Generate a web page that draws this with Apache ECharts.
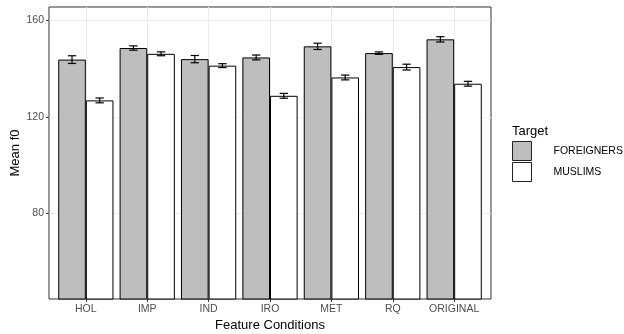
<!DOCTYPE html>
<html>
<head>
<meta charset="utf-8">
<title>Mean f0 by feature condition</title>
<script src="https://cdn.jsdelivr.net/npm/echarts@6/dist/echarts.min.js"></script>
<style>
  html, body { margin: 0; padding: 0; background: #fff; }
  #chart { width: 624px; height: 334px; }
</style>
</head>
<body>
<div id="chart"></div>
<script>
// data
const categories = ['HOL', 'IMP', 'IND', 'IRO', 'MET', 'RQ', 'ORIGINAL'];
const foreigners = [143.7, 148.5, 143.9, 144.6, 149.2, 146.4, 152.1];
const muslims = [126.8, 146.1, 141.2, 128.7, 136.3, 140.6, 133.7];
const foreignersSE = [1.6, 0.9, 1.5, 1.0, 1.3, 0.5, 1.1];
const muslimsSE = [1.0, 0.8, 0.8, 1.0, 1.0, 1.2, 1.0];
const yTicks = [80, 120, 160];

const FONT = "'Liberation Sans', Arial, sans-serif";
const yMin = 44.5, yMax = 165.5;

// panel (ggplot keeps 0.6 of a category as padding, echarts 0.5 -> inner grid is inset)
const panel = { left: 49, top: 7, right: 133, bottom: 35 };
const unit = (624 - panel.left - panel.right) / 7.2;
const inset = unit * 0.1;

// error bars drawn through the axis scales
const errorSeries = (vals, se, side) => ({
  type: 'custom',
  xAxisIndex: 1,
  yAxisIndex: 2,
  z: 5,
  silent: true,
  data: vals.map((v, i) => [i, v, se[i]]),
  encode: { x: 0, y: 1 },
  renderItem: function (params, api) {
    const band = api.size([1, 0])[0];
    const x = api.coord([api.value(0), api.value(1)])[0] + side * band * 0.225;
    const top = api.coord([api.value(0), api.value(1) + api.value(2)])[1];
    const bot = api.coord([api.value(0), api.value(1) - api.value(2)])[1];
    const hw = band * 0.068;
    const style = { stroke: '#000', lineWidth: 1.2 };
    return {
      type: 'group',
      children: [
        { type: 'line', shape: { x1: x, y1: top, x2: x, y2: bot }, style: style },
        { type: 'line', shape: { x1: x - hw, y1: top, x2: x + hw, y2: top }, style: style },
        { type: 'line', shape: { x1: x - hw, y1: bot, x2: x + hw, y2: bot }, style: style }
      ]
    };
  }
});

const chart = echarts.init(document.getElementById('chart'), null, { renderer: 'canvas' });

const option = {
  animation: false,
  backgroundColor: '#fff',
  textStyle: { fontFamily: FONT },
  title: {
    text: 'Target',
    left: 512,
    top: 125,
    padding: 0,
    textStyle: { fontFamily: FONT, fontSize: 13, fontWeight: 'normal', color: '#000' }
  },
  legend: {
    data: ['FOREIGNERS', 'MUSLIMS'],
    orient: 'vertical',
    left: 512,
    top: 141,
    padding: 0,
    itemWidth: 19,
    itemHeight: 19,
    itemGap: 1,
    icon: 'rect',
    selectedMode: false,
    itemStyle: { borderWidth: 1, borderColor: '#222' },
    textStyle: { fontFamily: FONT, fontSize: 10.5, color: '#000', padding: [0, 0, 0, 17] }
  },
  grid: [
    // outer panel: border + horizontal grid
    { left: panel.left, top: panel.top, right: panel.right, bottom: panel.bottom,
      outerBoundsMode: 'none', containLabel: false,
      show: true, backgroundColor: '#fff', borderColor: '#333', borderWidth: 1 },
    // inner grid for the bars
    { left: panel.left + inset, top: panel.top, right: panel.right + inset, bottom: panel.bottom,
      outerBoundsMode: 'none', containLabel: false }
  ],
  xAxis: [
    { type: 'value', gridIndex: 0, min: 0, max: 1, show: false },
    {
      type: 'category',
      gridIndex: 1,
      data: categories,
      name: 'Feature Conditions',
      nameLocation: 'middle',
      nameGap: 20,
      nameMoveOverlap: false,
      nameTextStyle: { fontFamily: FONT, fontSize: 13, color: '#000' },
      axisLine: { show: false },
      axisTick: { show: true, interval: 0, alignWithLabel: true, length: 3, lineStyle: { color: '#333' } },
      axisLabel: { interval: 0, fontFamily: FONT, fontSize: 10.5, color: '#4D4D4D', margin: 5 },
      splitLine: { show: true, interval: 0, alignWithLabel: true, lineStyle: { color: '#EBEBEB', width: 1 } }
    }
  ],
  yAxis: [
    {
      type: 'value',
      gridIndex: 0,
      min: yMin,
      max: yMax,
      splitNumber: 6,
      name: 'Mean f0',
      nameLocation: 'middle',
      nameGap: 27,
      nameMoveOverlap: false,
      nameTextStyle: { fontFamily: FONT, fontSize: 13, color: '#000' },
      axisLine: { show: false },
      axisTick: { show: true, length: 3, customValues: yTicks, lineStyle: { color: '#333' } },
      axisLabel: { fontFamily: FONT, fontSize: 10.5, color: '#4D4D4D', margin: 5, customValues: yTicks },
      // ticks every 20 from the scale: 40-multiples major, others minor
      splitLine: {
        show: true,
        lineStyle: { color: ['#EBEBEB', '#F4F4F4'], width: 1 }
      }
    },
    { type: 'value', gridIndex: 1, min: yMin, max: yMax, show: false },
    { type: 'value', gridIndex: 1, min: yMin, max: yMax, show: false }
  ],
  series: [
    {
      name: 'FOREIGNERS',
      type: 'bar',
      xAxisIndex: 1,
      yAxisIndex: 1,
      data: foreigners,
      barGap: 0,
      barCategoryGap: '10%',
      itemStyle: { color: '#BEBEBE', borderColor: '#000', borderWidth: 1 }
    },
    {
      name: 'MUSLIMS',
      type: 'bar',
      xAxisIndex: 1,
      yAxisIndex: 1,
      data: muslims,
      barGap: 0,
      barCategoryGap: '10%',
      itemStyle: { color: '#FFFFFF', borderColor: '#000', borderWidth: 1 }
    },
    errorSeries(foreigners, foreignersSE, -1),
    errorSeries(muslims, muslimsSE, 1)
  ]
};

chart.setOption(option);
window.addEventListener('resize', function () {
  chart && chart.resize();
});
</script>
</body>
</html>
